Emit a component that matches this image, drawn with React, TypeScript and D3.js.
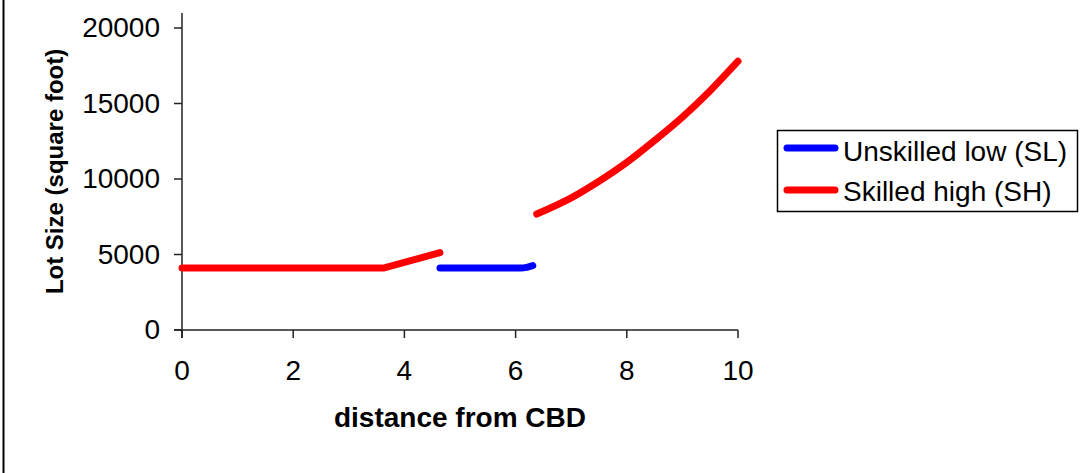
import React from "react";
import * as d3 from "d3";

const xTicks = [0, 2, 4, 6, 8, 10];
const yTicks = [0, 5000, 10000, 15000, 20000];

const shLowX = [0, 1.5, 3.62, 4.64];
const shLowY = [4100, 4100, 4100, 5120];

const slX = [4.64, 5.5, 6.1, 6.2, 6.31];
const slY = [4100, 4100, 4100, 4150, 4260];

const shHighX = [6.38, 7.0, 7.5, 8.0, 8.5, 9.0, 9.5, 10.0];
const shHighY = [7680, 8750, 9850, 11100, 12550, 14100, 15850, 17800];

const legendLabels = ["Unskilled low (SL)", "Skilled high (SH)"];
const legendColors = ["#0000ff", "#ff0000"];

export default function App() {
  const W = 1091, H = 473;
  const x = d3.scaleLinear().domain([0, 10]).range([182, 738]);
  const y = d3.scaleLinear().domain([0, 20000]).range([330, 28]);
  const yTop = y(21000);
  const smooth = d3
    .line<[number, number]>()
    .x((d) => x(d[0]))
    .y((d) => y(d[1]))
    .curve(d3.curveMonotoneX);
  const straight = d3
    .line<[number, number]>()
    .x((d) => x(d[0]))
    .y((d) => y(d[1]));
  const zip = (a: number[], b: number[]) => a.map((v, i) => [v, b[i]] as [number, number]);
  const font = "Arial, 'Liberation Sans', sans-serif";
  const axisColor = "#222";

  return (
    <svg width={W} height={H} style={{ position: "absolute", left: 0, top: 0 }}>
      <rect x={0} y={0} width={W} height={H} fill="#fff" />
      <line x1={3.5} x2={3.5} y1={0} y2={H} stroke="#000" strokeWidth={2} />
      {/* axes */}
      <line x1={x(0)} x2={x(0)} y1={yTop} y2={y(0) + 8} stroke={axisColor} strokeWidth={1.5} />
      <line x1={x(0) - 8} x2={x(10)} y1={y(0)} y2={y(0)} stroke={axisColor} strokeWidth={1.5} />
      {yTicks.map((t) => (
        <g key={"y" + t}>
          <line x1={x(0) - 8} x2={x(0)} y1={y(t)} y2={y(t)} stroke={axisColor} strokeWidth={1.5} />
          <text x={160} y={y(t) + 9} textAnchor="end" fontFamily={font} fontSize={28} fill="#000">
            {t}
          </text>
        </g>
      ))}
      {xTicks.map((t) => (
        <g key={"x" + t}>
          <line x1={x(t)} x2={x(t)} y1={y(0)} y2={y(0) + 8} stroke={axisColor} strokeWidth={1.5} />
          <text x={x(t)} y={380} textAnchor="middle" fontFamily={font} fontSize={28} fill="#000">
            {t}
          </text>
        </g>
      ))}
      <text
        transform={`translate(63,${(yTop + y(0)) / 2}) rotate(-90)`}
        textAnchor="middle"
        fontFamily={font}
        fontSize={24}
        fontWeight="bold"
        fill="#000"
      >
        Lot Size (square foot)
      </text>
      <text x={(x(0) + x(10)) / 2} y={427} textAnchor="middle" fontFamily={font} fontSize={28} fontWeight="bold" fill="#000">
        distance from CBD
      </text>
      {/* series */}
      <path d={straight(zip(shLowX, shLowY)) || ""} fill="none" stroke="#ff0000" strokeWidth={7} strokeLinecap="round" strokeLinejoin="round" />
      <path d={smooth(zip(slX, slY)) || ""} fill="none" stroke="#0000ff" strokeWidth={7} strokeLinecap="round" strokeLinejoin="round" />
      <path d={smooth(zip(shHighX, shHighY)) || ""} fill="none" stroke="#ff0000" strokeWidth={7} strokeLinecap="round" strokeLinejoin="round" />
      {/* legend */}
      <rect x={777.5} y={130.5} width={300} height={81} fill="#fff" stroke="#000" strokeWidth={1.5} />
      {legendLabels.map((l, i) => (
        <g key={l}>
          <line x1={787} x2={835} y1={148 + i * 42} y2={148 + i * 42} stroke={legendColors[i]} strokeWidth={7} strokeLinecap="round" />
          <text x={843} y={161 + i * 40} fontFamily={font} fontSize={28} fill="#000">
            {l}
          </text>
        </g>
      ))}
    </svg>
  );
}
